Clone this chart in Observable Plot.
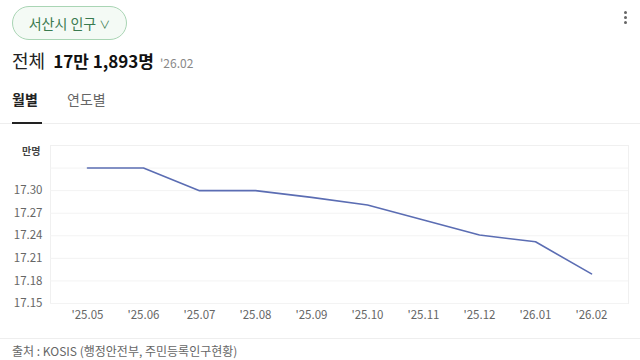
<!DOCTYPE html>
<html><head><meta charset="utf-8">
<script src="https://cdn.jsdelivr.net/npm/d3@7"></script>
<script src="https://cdn.jsdelivr.net/npm/@observablehq/plot@0.6"></script>
<style>
html,body{margin:0;padding:0;background:#fff;width:640px;height:360px;overflow:hidden;font-family:"Noto Sans CJK KR","Noto Sans",sans-serif;}
.abs{position:absolute;white-space:nowrap;}
#pill{left:12px;top:6px;width:113px;height:32px;border:1px solid #a9d5b4;border-radius:17px;background:#f4faf5;color:#3a7a4f;font-size:14px;line-height:32px;text-align:center;}
#title{left:12px;top:46px;font-size:18px;color:#222;line-height:28px;}
#title b{font-size:17px;color:#111;margin-left:4px;}
#title small{font-size:12px;color:#888;margin-left:6px;}
#tab1{left:12px;top:88px;font-size:14px;font-weight:bold;color:#222;line-height:22px;}
#tab2{left:67px;top:88px;font-size:14px;color:#666;line-height:22px;}
#sep{left:0;top:123px;width:640px;height:1px;background:#eee;}
#ul{left:12px;top:122px;width:30px;height:2px;background:#222;}
#unit{left:22px;top:143px;font-size:10px;font-weight:bold;color:#444;}
#chart{left:0;top:135px;}
#sep2{left:0;top:338px;width:640px;height:1px;background:#eee;}
#cap{left:12px;top:343px;font-size:12px;line-height:16px;color:#666;}
.dot{position:absolute;left:624px;width:3px;height:3px;border-radius:2px;background:#666;}
</style></head>
<body>
<div id="pill" class="abs">서산시 인구 <span style="font-size:11px">∨</span></div>
<div class="dot" style="top:11px"></div><div class="dot" style="top:16px"></div><div class="dot" style="top:21px"></div>
<div id="title" class="abs">전체 <b>17만 1,893명</b><small>'26.02</small></div>
<div id="tab1" class="abs">월별</div>
<div id="tab2" class="abs">연도별</div>
<div id="sep" class="abs"></div>
<div id="ul" class="abs"></div>
<div id="unit" class="abs">만명</div>
<div id="chart" class="abs"></div>
<div id="sep2" class="abs"></div>
<div id="cap" class="abs">출처 : KOSIS (행정안전부, 주민등록인구현황)</div>
<script>
const months = ["25.05","25.06","25.07","25.08","25.09","25.10","25.11","25.12","26.01","26.02"];
const population = [17.330, 17.330, 17.300, 17.300, 17.291, 17.281, 17.261, 17.241, 17.232, 17.1893];
const yTickLabels = [17.15, 17.18, 17.21, 17.24, 17.27, 17.30];
const gridValues = [17.15, 17.18, 17.21, 17.24, 17.27, 17.30, 17.33];

const data = months.map((m, i) => ({month: m, value: population[i]}));

const chart = Plot.plot({
  width: 640,
  height: 190,
  marginLeft: 50,
  marginRight: 12,
  marginTop: 10,
  marginBottom: 22,
  style: {fontFamily: "'Noto Sans CJK KR', sans-serif", fontSize: "11.5px", color: "#666", background: "transparent"},
  x: {type: "point", domain: months, padding: 0.62, label: null},
  y: {domain: [17.15, 17.36], label: null},
  marks: [
    Plot.frame({stroke: "#f0f0f0"}),
    Plot.ruleY(gridValues, {stroke: "#f3f3f3"}),
    Plot.axisX({tickSize: 0, tickPadding: 7, tickFormat: d => "'" + d, fill: "#666", label: null}),
    Plot.axisY(yTickLabels, {tickSize: 0, tickPadding: 8, tickFormat: d3.format(".2f"), fill: "#666", label: null}),
    Plot.line(data, {x: "month", y: "value", stroke: "#5b6db3", strokeWidth: 1.6})
  ]
});
document.getElementById("chart").appendChild(chart);
</script>
</body></html>
